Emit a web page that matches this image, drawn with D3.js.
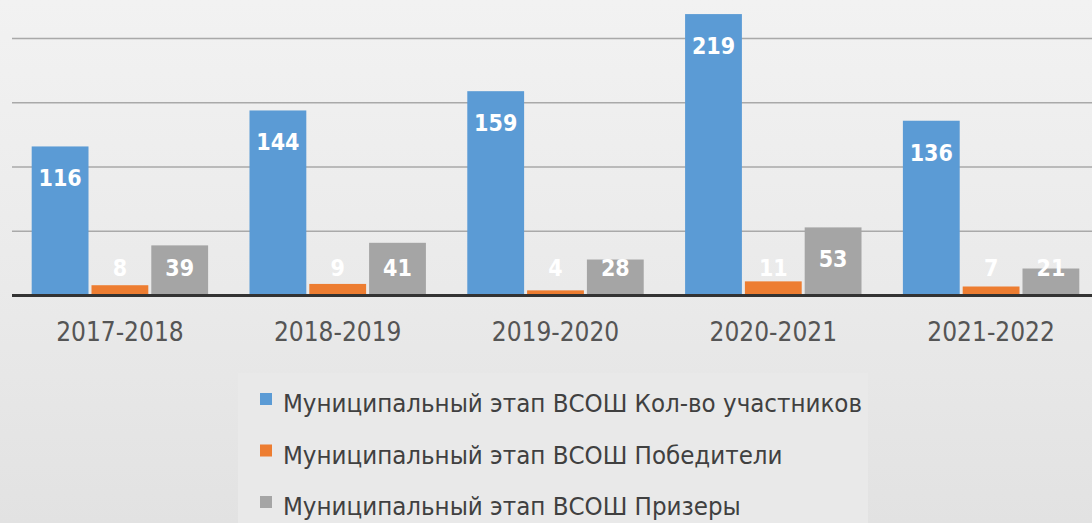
<!DOCTYPE html>
<html>
<head>
<meta charset="utf-8">
<script src="https://cdn.jsdelivr.net/npm/d3@7"></script>
<style>
  body { margin: 0; background: #e9e9e9; }
  svg { display: block; }
</style>
</head>
<body>
<svg id="chart"></svg>
<script>
const years = ["2017-2018", "2018-2019", "2019-2020", "2020-2021", "2021-2022"];
const seriesNames = [
  "Муниципальный этап ВСОШ Кол-во участников",
  "Муниципальный этап ВСОШ Победители",
  "Муниципальный этап ВСОШ Призеры"
];
const participants = [116, 144, 159, 219, 136];
const winners = [8, 9, 4, 11, 7];
const prizeWinners = [39, 41, 28, 53, 21];
const gridTicks = [50, 100, 150, 200];

const seriesValues = [participants, winners, prizeWinners];
const colors = ["#5b9bd5", "#ed7d31", "#a5a5a5"];

const width = 1092;
const height = 523;
const narrow = "'DejaVu Sans Condensed', 'Liberation Sans', sans-serif";

const svg = d3.select("#chart")
  .attr("width", width)
  .attr("height", height);

// background, slightly lighter at the top
const defs = svg.append("defs");
const grad = defs.append("linearGradient")
  .attr("id", "bg")
  .attr("x1", 0).attr("y1", 0).attr("x2", 0).attr("y2", 1);
grad.append("stop").attr("offset", "0%").attr("stop-color", "#f2f2f2");
grad.append("stop").attr("offset", "55%").attr("stop-color", "#eaeaea");
grad.append("stop").attr("offset", "100%").attr("stop-color", "#e2e2e2");

svg.append("rect")
  .attr("width", width)
  .attr("height", height)
  .attr("fill", "url(#bg)");

const x0 = d3.scaleBand()
  .domain(years)
  .range([11, 1100])
  .paddingInner(0.19)
  .paddingOuter(0.095);

const x1 = d3.scaleBand()
  .domain(d3.range(seriesValues.length))
  .range([0, x0.bandwidth()])
  .paddingInner(0.05);

const y = d3.scaleLinear()
  .domain([0, 200])
  .range([295.5, 38.5]);

// gridlines
svg.append("g")
  .selectAll("line")
  .data(gridTicks)
  .enter()
  .append("line")
  .attr("x1", 12)
  .attr("x2", width)
  .attr("y1", d => y(d))
  .attr("y2", d => y(d))
  .attr("stroke", "#a9a9a9")
  .attr("stroke-width", 1.5);

const groups = svg.append("g")
  .selectAll("g.year")
  .data(years)
  .enter()
  .append("g")
  .attr("class", "year")
  .attr("transform", d => `translate(${x0(d)},0)`);

const bars = groups.selectAll("g.bar")
  .data((d, i) => seriesValues.map((s, k) => ({ k: k, value: s[i] })))
  .enter()
  .append("g")
  .attr("class", "bar");

bars.append("rect")
  .attr("x", d => x1(d.k))
  .attr("y", d => y(d.value))
  .attr("width", x1.bandwidth())
  .attr("height", d => y(0) - y(d.value))
  .attr("fill", d => colors[d.k]);

bars.append("text")
  .attr("x", d => x1(d.k) + x1.bandwidth() / 2)
  .attr("y", d => Math.min(y(d.value) + 32, y(0) - 28))
  .attr("text-anchor", "middle")
  .attr("dominant-baseline", "central")
  .style("font-family", narrow)
  .style("font-weight", "bold")
  .style("font-size", "23px")
  .style("fill", "#ffffff")
  .text(d => d.value);

// axis baseline
svg.append("line")
  .attr("x1", 12)
  .attr("x2", width)
  .attr("y1", y(0))
  .attr("y2", y(0))
  .attr("stroke", "#333333")
  .attr("stroke-width", 3);

const xAxis = svg.append("g")
  .attr("transform", `translate(0,${y(0)})`)
  .call(d3.axisBottom(x0).tickSize(0).tickPadding(27));
xAxis.select(".domain").remove();
xAxis.selectAll("text")
  .style("font-family", narrow)
  .style("font-size", "26px")
  .style("fill", "#555555");

// legend
svg.append("rect")
  .attr("x", 238)
  .attr("y", 373)
  .attr("width", 630)
  .attr("height", 160)
  .attr("fill", "#e9e9e9");

const legend = svg.append("g")
  .selectAll("g.legend")
  .data(seriesNames)
  .enter()
  .append("g")
  .attr("class", "legend")
  .attr("transform", (d, i) => `translate(260,${403 + i * 51.5})`);

legend.append("rect")
  .attr("x", 0)
  .attr("y", -10)
  .attr("width", 12)
  .attr("height", 12)
  .attr("fill", (d, i) => colors[i]);

legend.append("text")
  .attr("x", 23)
  .attr("y", 9)
  .style("font-family", narrow)
  .style("font-size", "25.6px")
  .style("fill", "#404040")
  .text(d => d);
</script>
</body>
</html>
